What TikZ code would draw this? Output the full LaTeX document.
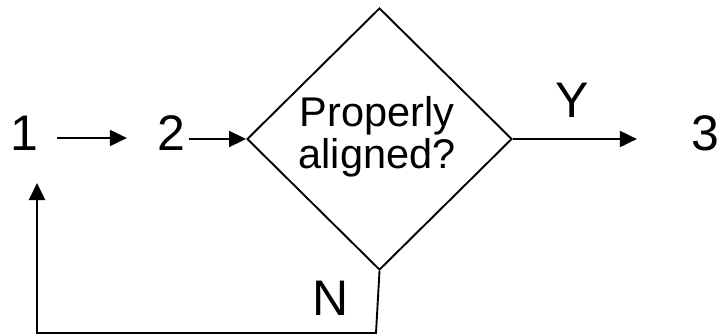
\documentclass[tikz,border=0pt]{standalone}
\usepackage{fontspec}
\setmainfont{Liberation Sans}
\usetikzlibrary{shapes.geometric,arrows.meta}
\begin{document}
\begin{tikzpicture}[x=1pt,y=-1pt,
  lbl/.style={inner sep=0pt,font=\fontsize{50}{54}\selectfont},
  dtext/.style={inner sep=0pt,align=center,font=\fontsize{41.5}{42}\selectfont},
  ln/.style={line width=1.9pt},
  arr/.style={ln,-{Triangle[length=17pt,width=16pt]}}]
\useasboundingbox (0,0) rectangle (723,335);
\node[draw,ln,diamond,shape aspect=1,inner sep=0pt,minimum width=265pt,minimum height=262pt] (d) at (379.5,139) {};
\node[dtext] (dt) at (377,137) {Properly\\aligned?};
\node[lbl] (n1) at (24,133) {1};
\node[lbl] (n2) at (171,133) {2};
\node[lbl] (n3) at (705,133) {3};
\node[lbl] (y) at (572,100) {Y};
\node[lbl] (nn) at (331,298) {N};
\coordinate (c1) at (376,333);
\coordinate (c2) at (37,333);
\coordinate (c3) at (37,183);
\draw[arr,shorten <=19pt,shorten >=30pt] (n1.east |- 0,138) -- (n2.west |- 0,138);
\draw[arr,shorten <=4pt] (n2.east |- d.west) -- (d.west);
\draw[arr,shorten >=54pt] (d.east) -- (n3.west |- d.east);
\draw[arr,line join=miter] (d.south) -- (c1) -- (c2) -- (c3);
\end{tikzpicture}
\end{document}
